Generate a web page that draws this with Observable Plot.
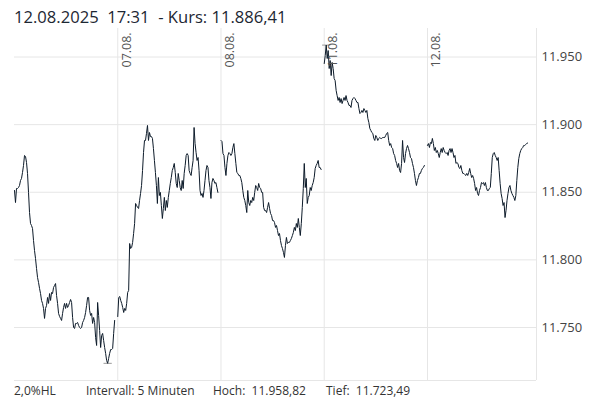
<!DOCTYPE html>
<html><head><meta charset="utf-8">
<script src="https://cdn.jsdelivr.net/npm/d3@7"></script>
<script src="https://cdn.jsdelivr.net/npm/@observablehq/plot@0.6"></script>
<style>
body{margin:0;background:#fff;font-family:"Open Sans",sans-serif;}
#wrap{position:relative;width:603px;height:398px;overflow:hidden;background:#fff;}
#head{position:absolute;left:14px;top:7px;font-size:16.6px;line-height:20px;color:#1d2733;white-space:pre;}
#chart{position:absolute;left:0;top:28px;}
.f{position:absolute;top:383px;font-size:12px;line-height:16px;color:#333;white-space:pre;}
</style></head><body>
<div id="wrap">
<div id="head"></div>
<div id="chart"></div>
<div id="foot"></div>
</div>
<script>
// Day labels (session days)
const dayLabels = ["06.08.", "07.08.", "08.08.", "11.08.", "12.08."];

// 5-minute closes per session day (index points)
const day1 = [11851.3, 11842.4, 11852.8, 11852.8, 11853.5, 11855.0, 11858.7, 11860.2, 11864.6, 11869.8,
  11877.2, 11876.5, 11872.0, 11863.9, 11849.9, 11835.0, 11826.9, 11825.4, 11823.2, 11814.3,
  11806.9, 11801.0, 11793.6, 11787.0, 11783.3, 11778.9, 11775.1, 11770.0, 11767.8, 11764.1,
  11756.7, 11764.1, 11766.3, 11772.2, 11767.8, 11775.1, 11770.0, 11775.9, 11775.1, 11779.6,
  11781.1, 11782.5, 11773.7, 11767.8, 11760.4, 11758.2, 11756.7, 11755.2, 11760.4, 11764.8,
  11767.8, 11764.1, 11767.8, 11764.8, 11766.3, 11768.5, 11770.7, 11768.5, 11757.4, 11750.0,
  11749.3, 11753.0, 11753.0, 11753.7, 11751.5, 11750.0, 11749.3, 11750.0, 11753.7, 11755.2,
  11757.4, 11761.1, 11766.3, 11772.2, 11772.2, 11762.6, 11758.9, 11760.4, 11753.0, 11757.4,
  11753.7, 11742.6, 11736.7, 11768.5, 11758.9, 11747.8, 11735.2, 11744.1, 11745.6, 11740.4,
  11735.2, 11730.8, 11725.6, 11723.49, 11727.1, 11730.8, 11733.7, 11733.7, 11734.5, 11745.6,
  11755.2];
const day2 = [11758.1, 11772.2, 11772.9, 11770.0, 11767.8, 11764.8, 11761.1, 11764.1, 11762.6, 11767.8,
  11775.9, 11777.4, 11812.1, 11808.4, 11809.2, 11812.9, 11819.5, 11826.9, 11841.7, 11840.2,
  11838.8, 11838.0, 11843.9, 11849.1, 11855.0, 11866.1, 11879.4, 11888.3, 11888.3, 11893.5,
  11899.4, 11888.3, 11894.2, 11891.2, 11891.2, 11889.8, 11882.3, 11873.5, 11864.6, 11855.0,
  11841.7, 11860.9, 11847.6, 11849.9, 11840.2, 11830.6, 11838.0,
  11846.2, 11836.5, 11843.9, 11838.8, 11846.2, 11851.3, 11856.5, 11860.9, 11866.1, 11868.3,
  11871.3, 11864.6, 11856.5, 11853.5, 11863.9, 11858.7, 11853.5, 11851.3, 11858.7, 11852.8,
  11863.9, 11869.8, 11877.2, 11878.6, 11877.2, 11866.1, 11863.9, 11862.4, 11868.3, 11873.5,
  11897.9, 11886.0, 11879.4, 11873.5, 11875.7, 11866.1, 11851.3, 11847.6, 11849.1, 11846.2,
  11851.3, 11858.7, 11866.1, 11869.8, 11868.3, 11858.7, 11853.5, 11845.4, 11857.2, 11860.2,
  11858.7, 11856.5, 11857.2, 11853.5, 11849.9];
const day3 = [11888.3, 11887.5, 11878.6, 11877.2, 11868.3, 11862.4, 11871.3, 11877.2, 11879.4, 11878.6,
  11877.2, 11878.6, 11883.1, 11886.0, 11878.6, 11871.3, 11864.6, 11863.9, 11862.4, 11862.4,
  11860.2, 11857.2, 11851.3, 11846.2, 11843.9, 11840.2, 11835.0, 11851.3, 11842.4, 11840.2,
  11843.9, 11842.4, 11846.2, 11843.9, 11849.9, 11855.0, 11853.5, 11851.3, 11856.5, 11853.5,
  11852.8, 11849.9, 11849.9, 11838.8, 11836.5, 11836.5, 11835.0, 11838.8, 11842.4, 11838.0,
  11834.3, 11832.8, 11829.1, 11829.1, 11827.6, 11824.0, 11825.4, 11821.7, 11818.0, 11819.5,
  11814.3, 11810.6, 11808.4, 11805.5, 11801.8, 11810.6, 11816.6, 11812.1, 11812.9, 11812.9,
  11814.3, 11815.8, 11818.0, 11820.3, 11824.0, 11821.7, 11826.9, 11824.0, 11830.6, 11824.0,
  11818.0, 11826.9, 11838.8, 11852.8, 11871.3, 11853.5, 11860.2, 11841.7, 11846.2, 11847.6,
  11853.5, 11851.3, 11855.0, 11857.2, 11860.9, 11867.6, 11869.8, 11871.3, 11873.5, 11868.3,
  11868.3, 11866.8];
const day4 = [11945.2, 11951.1, 11958.82, 11948.9, 11954.8, 11941.5, 11947.4, 11936.3, 11946.0, 11941.5,
  11934.1, 11932.6, 11925.3, 11921.5, 11917.9, 11920.1, 11916.4, 11919.3, 11915.6, 11917.9,
  11920.1, 11917.9, 11921.5, 11917.9, 11916.4, 11914.2, 11914.2, 11912.7, 11917.9, 11919.3,
  11920.1, 11919.3, 11917.9, 11916.4, 11916.4, 11911.9, 11908.2, 11909.0, 11910.5, 11909.0,
  11911.9, 11910.5, 11909.0, 11910.5, 11904.6, 11901.6, 11897.2, 11895.7, 11894.2, 11893.5,
  11889.8, 11888.3, 11892.0, 11890.5, 11888.3, 11889.8, 11890.5, 11889.8, 11889.8, 11890.5,
  11890.5, 11890.5, 11892.0, 11893.5, 11894.2, 11888.3, 11884.6, 11886.0, 11883.1, 11882.3,
  11878.6, 11877.2, 11873.5, 11871.3, 11868.3, 11871.3, 11866.1, 11864.6, 11871.3, 11888.3,
  11875.7, 11872.0, 11878.6, 11882.3, 11884.6, 11882.3, 11879.4, 11875.7, 11874.9, 11871.3,
  11868.3, 11863.9, 11858.7, 11855.0, 11858.7, 11860.9, 11863.9, 11863.9, 11866.1, 11867.6,
  11868.3, 11869.8];
const day5 = [11884.6, 11886.0, 11883.1, 11886.8, 11886.0, 11889.8, 11886.0, 11880.9, 11883.1, 11879.4,
  11880.9, 11878.6, 11875.7, 11879.4, 11882.3, 11879.4, 11883.1, 11880.9, 11879.4, 11878.6,
  11879.4, 11877.2, 11880.9, 11882.3, 11879.4, 11882.3, 11879.4, 11875.7, 11877.2, 11871.3,
  11872.0, 11871.3, 11868.3, 11867.6, 11869.8, 11866.1, 11863.9, 11863.9, 11863.1, 11862.4,
  11863.9, 11862.4, 11864.6, 11867.6, 11863.9, 11860.9, 11862.4, 11860.2, 11856.5, 11851.3,
  11853.5, 11849.1, 11847.6, 11851.3, 11853.5, 11857.2, 11856.5, 11857.2, 11855.0, 11857.2,
  11853.5, 11851.3, 11851.3, 11852.8, 11853.5, 11863.9, 11875.7, 11878.6, 11879.4, 11877.2,
  11875.7, 11873.5, 11875.7, 11866.1, 11856.5, 11849.1, 11845.4, 11840.2, 11842.4, 11831.3,
  11836.5, 11843.9, 11849.1, 11853.5, 11855.0, 11851.3, 11849.1, 11847.6, 11846.2, 11843.9,
  11847.6, 11858.7, 11868.3, 11874.9, 11878.6, 11880.9, 11882.3, 11883.1, 11884.6, 11884.6,
  11885.3, 11886.0, 11886.41];

const yTicks = [11750, 11800, 11850, 11900, 11950];
const headerDate = "12.08.2025";
const headerTime = "17:31";
const lastPrice = 11886.41;
const highValue = 11958.82;
const lowValue = 11723.49;
const rangeLabel = "2,0%HL";
const intervalLabel = "Intervall: 5 Minuten";

const de = d3.formatLocale({decimal: ",", thousands: ".", grouping: [3], currency: ["", " €"]});
const fmt0 = de.format(",.0f");
const fmt2 = de.format(",.2f");

document.getElementById("head").textContent = `${headerDate}  ${headerTime}  - Kurs: ${fmt2(lastPrice)}`;
const footItems = [[rangeLabel, 14], [intervalLabel, 86], [`Hoch:  ${fmt2(highValue)}`, 213], [`Tief:  ${fmt2(lowValue)}`, 326]];
const foot = document.getElementById("foot");
for (const [t, l] of footItems) {
  const s = document.createElement("div");
  s.className = "f"; s.style.left = l + "px"; s.textContent = t;
  foot.appendChild(s);
}

const days = [day1, day2, day3, day4, day5];
const pts = days.flatMap((vals, d) => vals.map((v, i) => ({t: d + 0.97 * i / (vals.length - 1), v, d})));
const lo = pts.reduce((a, b) => (b.v < a.v ? b : a));
const hi = pts.reduce((a, b) => (b.v > a.v ? b : a));

const xMax = 5.056;
const yDomain = [11710.8, 11971.1];
const gridColor = "#e6e6e6";

const chart = Plot.plot({
  width: 603,
  height: 353,
  marginTop: 0,
  marginBottom: 1,
  marginLeft: 14,
  marginRight: 67,
  style: {fontFamily: "Open Sans", fontSize: "13px", color: "#444", background: "transparent"},
  x: {domain: [0, xMax], axis: null},
  y: {domain: yDomain, axis: null},
  marks: [
    Plot.gridY(yTicks, {stroke: gridColor, strokeOpacity: 1}),
    Plot.ruleX([1, 2, 3, 4], {stroke: gridColor}),
    Plot.ruleX([xMax], {stroke: gridColor}),
    Plot.ruleY([yDomain[0]], {stroke: gridColor}),
    Plot.axisY(yTicks, {anchor: "right", label: null, tickSize: 0, tickPadding: 5, tickFormat: fmt0, fontSize: 13, fill: "#444"}),
    Plot.link([lo, hi], {x1: (d) => d.t - 0.04, x2: (d) => d.t + 0.04, y1: "v", y2: "v", stroke: "#9a9a9a"}),
    Plot.line(pts, {x: "t", y: "v", z: "d", stroke: "#0d1b2a", strokeWidth: 1}),
    Plot.text(dayLabels.slice(1), {x: (d, i) => i + 1, frameAnchor: "top", rotate: -90, textAnchor: "start", lineAnchor: "middle", dx: 9, dy: 39, fill: "#555", fontSize: 12.5})
  ]
});
document.getElementById("chart").appendChild(chart);
</script>
</body></html>
